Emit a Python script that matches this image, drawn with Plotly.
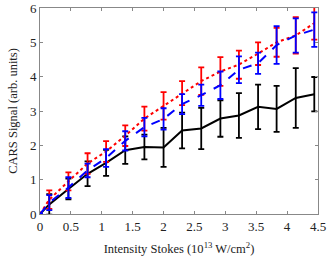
import plotly.graph_objects as go

x = [0, 0.15, 0.46, 0.77, 1.07, 1.38, 1.69, 2.0, 2.3, 2.61, 2.92, 3.22, 3.53, 3.83, 4.14, 4.44]

black_y = [0, 0.28, 0.73, 1.17, 1.49, 1.86, 1.95, 1.94, 2.43, 2.49, 2.78, 2.87, 3.12, 3.06, 3.38, 3.49]
black_err = [0, 0.3, 0.3, 0.36, 0.38, 0.4, 0.36, 0.57, 0.52, 0.6, 0.53, 0.65, 0.65, 0.67, 0.87, 0.5]

red_y = [0, 0.42, 0.95, 1.47, 1.82, 2.28, 2.78, 3.15, 3.52, 3.87, 4.15, 4.35, 4.67, 5.0, 5.2, 5.56]
red_err = [0, 0.27, 0.26, 0.3, 0.3, 0.3, 0.35, 0.4, 0.35, 0.4, 0.42, 0.41, 0.33, 0.42, 0.53, 0.48]

blue_y = [0, 0.33, 0.77, 1.27, 1.63, 2.13, 2.53, 2.77, 3.2, 3.46, 3.75, 4.2, 4.39, 4.92, 5.2, 5.37]
blue_err = [0, 0.22, 0.3, 0.2, 0.26, 0.28, 0.27, 0.31, 0.29, 0.31, 0.4, 0.39, 0.31, 0.55, 0.5, 0.5]

x_ticks = [0, 0.5, 1, 1.5, 2, 2.5, 3, 3.5, 4, 4.5]
x_tick_labels = ["0", "0.5", "1", "1.5", "2", "2.5", "3", "3.5", "4", "4.5"]
y_ticks = [0, 1, 2, 3, 4, 5, 6]

fig = go.Figure()

def add_series(yv, ev, color, dash):
    fig.add_trace(go.Scatter(
        x=x, y=yv, mode="lines",
        line=dict(color=color, width=2, dash=dash),
        error_y=dict(type="data", array=ev, visible=True, color=color, thickness=1.8, width=3),
        showlegend=False, cliponaxis=False,
    ))

add_series(black_y, black_err, "black", "solid")
add_series(red_y, red_err, "#ff0000", "dot")
add_series(blue_y, blue_err, "#0000ff", "dash")

axis_common = dict(
    showgrid=False, zeroline=False, showline=True, linecolor="#888888", linewidth=1,
    mirror="ticks", ticks="inside", ticklen=3, tickcolor="#888888", automargin=False,
    tickfont=dict(family="Liberation Serif", size=13, color="#222222"),
)

fig.update_xaxes(range=[0, 4.5], tickvals=x_ticks, ticktext=x_tick_labels,
                 title=dict(text="Intensity Stokes (10<sup>13</sup> W/cm<sup>2</sup>)",
                            font=dict(family="Liberation Serif", size=12.5, color="#222222"), standoff=11),
                 **axis_common)
fig.update_yaxes(range=[0, 6], tickvals=y_ticks,
                 title=dict(text="CARS Signal (arb. units)",
                            font=dict(family="Liberation Serif", size=12.5, color="#222222"), standoff=9),
                 **axis_common)

fig.update_layout(
    width=332, height=258,
    margin=dict(l=40, r=14, t=8, b=44),
    plot_bgcolor="white", paper_bgcolor="white",
)

fig.write_html("out.html", config={"displayModeBar": False},
               post_script="document.body.style.margin='0';document.body.style.overflow='hidden';")
